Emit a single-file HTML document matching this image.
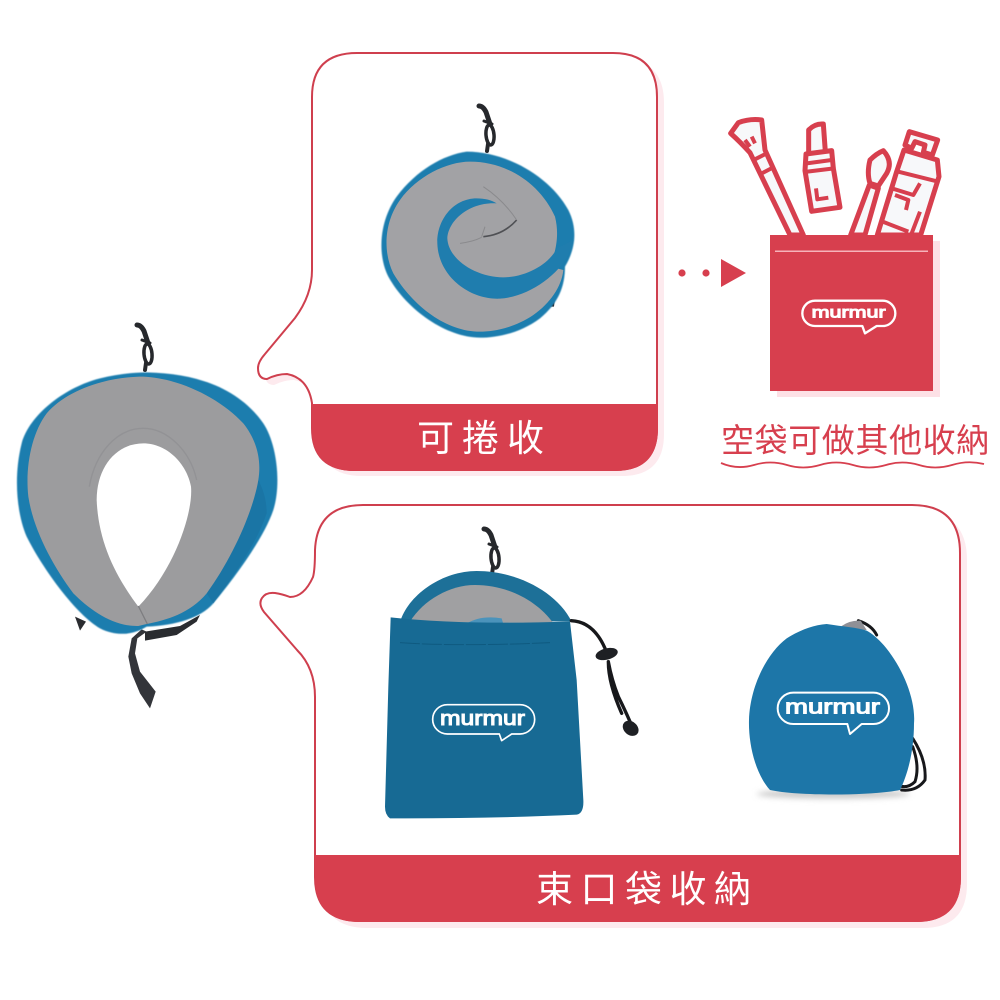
<!DOCTYPE html>
<html><head><meta charset="utf-8"><style>
html,body{margin:0;padding:0;background:#fff}
svg{display:block}
text{font-family:"Liberation Sans","Noto Sans CJK TC",sans-serif}
</style></head><body>
<svg width="1000" height="1000" viewBox="0 0 1000 1000" xmlns="http://www.w3.org/2000/svg">
<defs>
<filter id="s" x="-5%" y="-5%" width="110%" height="110%"><feGaussianBlur stdDeviation="1.5"/></filter>
<filter id="sh" x="-20%" y="-100%" width="140%" height="300%"><feGaussianBlur stdDeviation="9"/></filter>
<g id="hook" fill="none" stroke="#26282c" stroke-linecap="round" stroke-linejoin="round">
<path d="M2 2 Q6 2 9 8 L13 20" stroke-width="5"/>
<path d="M7 17 L15 20" stroke-width="3"/>
<ellipse cx="13" cy="31" rx="4" ry="10" stroke-width="3.500" transform="rotate(-5 13 31)"/>
<path d="M11 40 L10 47" stroke-width="4"/>
</g>
</defs>
<rect width="1000" height="1000" fill="#fff"/>

<!-- upper panel -->
<path transform="translate(7,6)" fill="#fdeaee" d="M312 97 Q312 53 357 53 H613 Q657 53 657 97 V428 Q657 470 615 470 H355 Q312 470 312 428 V403 Q308 378 287 374 Q277 374 267 379 Q258 379 258 368 Q258 362 265 354 L295 318 Q312 295 312 270 Z"/>
<path fill="#fff" stroke="#cf3f4e" stroke-width="2" d="M312 97 Q312 53 357 53 H613 Q657 53 657 97 V428 Q657 470 615 470 H355 Q312 470 312 428 V403 Q308 378 287 374 Q277 374 267 379 Q258 379 258 368 Q258 362 265 354 L295 318 Q312 295 312 270 Z"/>
<path fill="#d73f4e" d="M312 404 H658 V428 Q658 471 615 471 H355 Q312 471 312 428Z"/>
<text x="417" y="451" font-size="37" letter-spacing="8" fill="#fff">可捲收</text>

<!-- lower panel -->
<path transform="translate(7,7)" fill="#fdeaee" d="M363 505 H912 Q960 505 960 553 V877 Q960 921 916 921 H360 Q315 921 315 877 V697 Q315 668 297 650 L264 612 Q258 604 262 598 Q266 592 275 593 Q282 594 290 597 Q304 597 313 577 Q315 570 315 550 Q317 505 363 505Z"/>
<path fill="#fff" stroke="#cf3f4e" stroke-width="2" d="M363 505 H912 Q960 505 960 553 V877 Q960 921 916 921 H360 Q315 921 315 877 V697 Q315 668 297 650 L264 612 Q258 604 262 598 Q266 592 275 593 Q282 594 290 597 Q304 597 313 577 Q315 570 315 550 Q317 505 363 505Z"/>
<path fill="#d73f4e" d="M315 855 H961 V877 Q961 922 916 922 H360 Q315 922 315 877Z"/>
<text x="536" y="902" font-size="37" letter-spacing="7.5" fill="#fff">束口袋收納</text>

<!-- pillow -->
<use href="#hook" x="135" y="323"/>
<g transform="translate(0,310) scale(.33333)">
<path d="M225 920 L258 935 L240 962Z" fill="#2a2c30"/>
<path d="M435 965 L540 948 L600 915 L590 935 L530 975 L435 992Z" fill="#2a2c30"/>
<path d="M425 958 L395 985 L385 1040 L395 1090 L420 1150 L450 1195 L467 1145 L420 1085 L405 1030 L412 985 L440 965Z" fill="#33353a"/>
<g filter="url(#s)">
<path fill="#1f7dae" d="M440 187 C600 190 720 240 790 340 C830 400 845 520 820 600 C790 690 690 820 640 880 C600 925 530 945 440 950 C400 975 350 980 300 955 C230 915 130 780 80 680 C50 610 40 500 65 400 C90 310 200 230 300 205 C350 193 400 187 440 187Z"/>
</g>
<path fill="#1a6f9f" opacity=".55" d="M775 510 C760 600 700 740 620 850 L640 880 C700 800 770 700 800 610 C800 570 790 540 775 510Z"/>
<path fill="#9c9c9e" d="M430 200 C540 205 660 265 730 340 C770 390 785 450 775 510 C760 600 700 740 620 850 C570 910 500 930 440 942 L415 948 C340 950 270 900 220 850 C160 770 100 660 85 560 C75 470 95 370 140 310 C200 240 320 200 430 200Z"/>
<path fill="none" stroke="#8f8f91" stroke-width="4" opacity=".7" d="M268 530 C285 430 350 355 430 355 C500 355 570 420 590 510"/>
<path fill="#fff" d="M430 400 C500 400 560 460 573 530 C580 600 530 770 415 890 C340 790 295 690 290 570 C290 470 350 400 430 400Z"/>
<path d="M415 888 L442 942" stroke="#7d7d80" stroke-width="4" fill="none"/>
</g>

<!-- rolled pillow -->
<use href="#hook" x="477" y="104"/>
<g transform="translate(240,40) scale(.33333)">
<path d="M925 800 L945 775 L942 800Z" fill="#2a2c30"/>
<g filter="url(#s)">
<path fill="#1f7dae" d="M680 335 C800 335 930 410 985 510 C1015 570 1005 630 975 680 C975 740 955 790 900 835 C840 880 770 893 720 893 C620 893 500 810 445 710 C410 640 420 540 470 470 C530 390 610 345 680 335Z"/>
</g>
<path fill="#a2a2a5" d="M690 365 C800 365 900 430 945 530 C960 590 945 640 930 680 L970 690 C965 740 930 790 880 825 C820 865 760 875 720 875 C620 875 520 800 460 700 C430 640 430 550 480 480 C530 410 620 365 690 365Z"/>
<path fill="#1f7dae" d="M1000 600 C990 680 880 770 780 776 C690 780 595 710 592 610 C590 540 640 475 710 475 C735 475 755 480 770 490 C690 485 625 540 622 595 C625 660 710 712 790 712 C860 712 930 670 950 625Z"/>
<path fill="none" stroke="#4f5054" stroke-width="5" d="M730 590 Q790 585 830 540"/>
<path fill="none" stroke="#8a8a8d" stroke-width="3" d="M830 540 Q790 480 730 440 M725 590 L735 560 M660 610 Q700 605 725 592"/>
</g>

<!-- arrow -->
<circle cx="682" cy="273" r="3.6" fill="#d73f4e"/>
<circle cx="706" cy="273" r="3.6" fill="#d73f4e"/>
<path d="M721 259 L746 273 L721 287Z" fill="#d73f4e"/>

<!-- cosmetics -->
<g transform="translate(700,100) scale(.33333)" fill="#f7f8fa" stroke="#d73f4e" stroke-width="15" stroke-linejoin="round">
<path d="M150 158 L270 405 H310 L195 150 L190 105 L185 60 Q150 55 115 68 L92 100 Q120 125 150 158Z"/>
<path d="M135 120 L150 140 M155 110 L165 130 M165 178 L200 160 M182 222 L214 205" fill="none" stroke-width="12"/>
<path d="M326 90 Q345 70 370 72 L376 155 L326 162Z"/>
<path d="M318 162 L395 152 L400 205 L420 322 L335 334 L315 212Z"/>
<path d="M320 190 L395 180 M322 215 L402 205 M348 265 L352 298 L385 293" fill="none" stroke-width="12"/>
<path d="M550 152 Q580 185 560 220 L535 258 L510 250 Q500 220 510 180 Q530 160 550 152Z"/>
<path d="M508 255 L535 265 L495 405 H452Z"/>
<path d="M628 95 L713 120 L697 165 L670 157 L675 135 L645 125 L635 145 L615 135Z"/>
<path d="M612 150 L712 180 L717 230 L662 405 H532 L590 215Z"/>
<path d="M595 215 L715 245 M575 265 L640 285 L660 250 M585 285 L625 300 L618 330 M548 365 L625 395 M660 335 L635 400" fill="none" stroke-width="12"/>
</g>

<!-- pocket -->
<rect x="777" y="241" width="163" height="156" fill="#fde1e6"/>
<rect x="770" y="235" width="163" height="156" fill="#d73f4e"/>
<rect x="775" y="250.500" width="153" height="1.500" fill="#f6b3ba"/>
<g transform="translate(700,100) scale(.33333)">
<path fill="none" stroke="#fff" stroke-width="7" stroke-linejoin="round" d="M345 602 H548 A38 38 0 0 1 548 678 H530 L495 700 L487 678 H345 A38 38 0 0 1 345 602Z"/>
<text x="335" y="652" font-size="48" fill="#fff" stroke="#fff" stroke-width="3" textLength="222" lengthAdjust="spacingAndGlyphs">murmur</text>
</g>

<text x="721" y="452" font-size="33" letter-spacing=".6" fill="#d73f4e">空袋可做其他收納</text>
<path fill="none" stroke="#d73f4e" stroke-width="1.800" d="M721 463 Q737 470 754 465 Q770 460 787 465 Q803 470 820 465 Q836 460 853 465 Q869 470 886 465 Q902 460 919 465 Q935 470 952 465 Q968 460 984 464"/>

<!-- bag -->
<use href="#hook" x="482" y="527"/>
<g transform="translate(360,520) scale(.33333)">
<path fill="#1d7098" d="M122 300 C150 220 250 153 350 153 C470 153 590 215 635 305Z"/>
<path fill="#a0a0a2" d="M150 305 C190 240 270 195 345 195 C440 195 530 240 580 310Z"/>
<path fill="#4b93bb" d="M318 312 Q360 285 425 295 L430 312Z"/>
<path fill="none" stroke="#17181b" stroke-width="10" stroke-linecap="round" d="M634 302 Q700 305 735 385 M745 425 Q755 480 775 530 Q800 580 825 640 M745 425 Q745 490 785 580"/>
<ellipse cx="740" cy="402" rx="34" ry="17" fill="#1e2024" transform="rotate(-14 740 402)"/>
<ellipse cx="812" cy="625" rx="26" ry="20" fill="#1e2024" transform="rotate(40 812 625)"/>
<path fill="#176a94" d="M92 292 Q300 315 630 305 L650 480 L670 840 Q672 880 650 884 Q400 896 90 895 Q75 885 75 860 L85 500Z"/>
<path fill="none" stroke="#0f5a80" stroke-width="3" stroke-dasharray="60 6" d="M120 368 Q300 380 570 368"/>
<path fill="none" stroke="#fff" stroke-width="5" stroke-linejoin="round" d="M262 554 H480 A44 44 0 0 1 480 642 H455 L425 662 L418 642 H262 A44 44 0 0 1 262 554Z"/>
<text x="240" y="615" font-size="60" fill="#fff" stroke="#fff" stroke-width="3" textLength="255" lengthAdjust="spacingAndGlyphs">murmur</text>
</g>

<!-- ball -->
<g transform="translate(730,610) scale(.33333)">
<ellipse cx="310" cy="552" rx="230" ry="14" fill="#c9c9c9" filter="url(#sh)"/>
<path fill="none" stroke="#17181b" stroke-width="9" stroke-linecap="round" d="M385 32 Q425 45 440 75 M548 385 Q590 450 585 510 Q560 545 515 540 M548 410 Q570 470 555 515 Q535 535 510 528"/>
<path fill="#8f9096" d="M335 48 Q360 30 392 32 L410 60 L340 60Z"/>
<path fill="#1d76a8" d="M290 42 C340 50 380 52 410 62 C480 100 560 240 552 340 C552 430 530 500 510 540 C420 558 200 558 120 540 C75 490 55 400 57 330 C60 230 110 130 170 85 C210 60 250 45 290 42Z"/>
<path fill="none" stroke="#fff" stroke-width="6" stroke-linejoin="round" d="M190 248 H430 A47 47 0 0 1 430 342 H395 L360 372 L352 342 H190 A47 47 0 0 1 190 248Z"/>
<text x="165" y="310" font-size="60" fill="#fff" stroke="#fff" stroke-width="3" textLength="285" lengthAdjust="spacingAndGlyphs">murmur</text>
</g>
</svg>
</body></html>
